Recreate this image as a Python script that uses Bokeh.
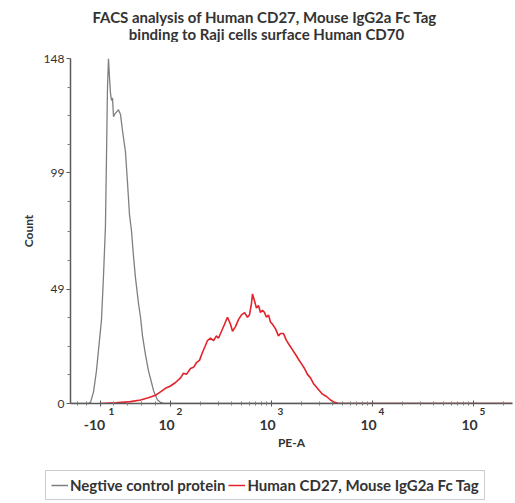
import math
from bokeh.plotting import figure
from bokeh.models import (FixedTicker, Legend, LegendItem, Range1d, Label,
                          LinearAxis)
from bokeh.embed import file_html
from bokeh.resources import INLINE

# PE-A channel positions are in display decades (10^2 -> 2, 10^3 -> 3 ...)
neg_x = [1.010, 1.188, 1.208, 1.238, 1.267, 1.317, 1.337, 1.356, 1.366, 1.376,
         1.386, 1.396, 1.406, 1.416, 1.426, 1.436, 1.446, 1.465, 1.485, 1.505,
         1.525, 1.554, 1.574, 1.594, 1.614, 1.634, 1.653, 1.683, 1.703, 1.723,
         1.752, 1.782, 1.812, 1.832, 1.851, 1.871, 1.901, 1.941, 5.386]
neg_count = [0, 0, 0.5, 5, 14, 36, 55, 76, 105, 135,
             148, 140, 133, 130, 131, 123, 124, 125, 126, 124,
             117, 108, 95, 81, 74, 63, 54, 43, 37, 29,
             21, 14, 9, 5.5, 3.5, 1.5, 0.5, 0, 0]

pos_x = [1.307, 1.455, 1.604, 1.703, 1.782, 1.851, 1.901, 1.950, 2.000, 2.050,
         2.099, 2.129, 2.158, 2.198, 2.228, 2.257, 2.287, 2.317, 2.347, 2.366,
         2.396, 2.426, 2.455, 2.475, 2.505, 2.535, 2.564, 2.594, 2.614, 2.644,
         2.673, 2.703, 2.733, 2.762, 2.782, 2.802, 2.812, 2.832, 2.851, 2.871,
         2.891, 2.911, 2.931, 2.950, 2.970, 2.990, 3.010, 3.040, 3.069, 3.089,
         3.119, 3.149, 3.178, 3.208, 3.238, 3.267, 3.297, 3.327, 3.356, 3.386,
         3.416, 3.446, 3.475, 3.505, 3.545, 3.584, 3.624, 3.663, 5.386]
pos_count = [0, 0.3, 0.8, 1.5, 2.5, 3.5, 5, 6.5, 7.5, 9,
             11, 13, 12.5, 15, 15.5, 17.5, 18.5, 22, 25, 27,
             28, 27, 29, 28, 31, 34, 37, 34, 31, 33,
             36, 38, 39, 37, 38, 43, 47, 44, 41, 42,
             39, 40, 39, 37, 38, 35, 34, 32, 29, 30,
             30, 27, 25, 23, 21, 19, 17, 15, 12.5, 11,
             8.5, 7, 5.5, 4, 3, 1.5, 0.5, 0, 0]

y_ticks = [0, 49, 99, 148]
x_tick_pos = [1.307, 2, 3, 4, 5]
x_tick_base = ["-10", "10", "10", "10", "10"]
x_tick_exp = ["1", "2", "3", "4", "5"]

title_lines = ["FACS analysis of  Human CD27, Mouse IgG2a Fc Tag",
               "binding to Raji cells surface Human CD70"]
series_names = ["Negtive control protein", "Human CD27, Mouse IgG2a Fc Tag"]
series_colors = ["#7f7f7f", "#e3222a"]

FONT = "Lato"
TXT = "#333333"
W = 515
x_lo, x_hi = 1.010, 5.386
FRAME_W = 442
px = (x_hi - x_lo) / FRAME_W          # data units per screen pixel
BASE_SHIFT = [-6, -4, -4, -4, -4]     # label nudges in pixels
EXP_SHIFT = [11, 9, 9, 9, 9]


def blank(height):
    f = figure(width=W, height=height, output_backend="svg",
               toolbar_location=None, x_range=Range1d(0, W),
               y_range=Range1d(height, 0), x_axis_type=None,
               y_axis_type=None, min_border=0, min_border_left=0,
               min_border_right=0, min_border_top=0, min_border_bottom=0)
    f.grid.visible = False
    f.outline_line_color = None
    return f


# ---- title strip
top = blank(42)
for i, t in enumerate(title_lines):
    top.add_layout(Label(x=266, y=16 + 17 * i, text=t, text_align="center",
                         text_baseline="middle", text_font=FONT,
                         text_font_style="bold", text_font_size="15px",
                         text_color=TXT))

# ---- main histogram
p = figure(width=W, height=428, output_backend="svg", toolbar_location=None,
           x_range=Range1d(x_lo, x_hi), y_range=Range1d(0, 148),
           min_border_left=70, min_border_right=3, min_border_top=16,
           min_border_bottom=67)
p.outline_line_color = None
p.grid.visible = False

p.line(neg_x, neg_count, line_color=series_colors[0], line_width=1.3)
p.line(pos_x, pos_count, line_color=series_colors[1], line_width=1.6)

ymin = []
for a, b in zip(y_ticks[:-1], y_ticks[1:]):
    ymin += [a + (b - a) * k / 4 for k in (1, 2, 3)]
p.yaxis.ticker = FixedTicker(ticks=y_ticks, minor_ticks=ymin)
p.yaxis.axis_line_color = "#5a5a5a"
p.yaxis.axis_line_width = 1.5
p.yaxis.major_tick_line_color = "#5a5a5a"
p.yaxis.minor_tick_line_color = "#7a7a7a"
p.yaxis.major_tick_out = 4
p.yaxis.major_tick_in = 0
p.yaxis.minor_tick_out = 3
p.yaxis.minor_tick_in = 0
p.yaxis.major_label_text_font = FONT
p.yaxis.major_label_text_font_size = "12px"
p.yaxis.major_label_text_color = TXT
p.yaxis.major_label_standoff = 2
p.yaxis.axis_label = "Count"
p.yaxis.axis_label_text_font = FONT
p.yaxis.axis_label_text_font_style = "bold"
p.yaxis.axis_label_text_font_size = "12px"
p.yaxis.axis_label_text_color = TXT
p.yaxis.axis_label_standoff = 5

# x axis: line and ticks only
xmin = [1.08, 1.17, 1.44, 1.57, 1.71, 1.85]
for n in (2, 3, 4, 5):
    for k in range(2, 10):
        v = n + math.log10(k)
        if v < x_hi:
            xmin.append(v)
p.xaxis.ticker = FixedTicker(ticks=x_tick_pos, minor_ticks=xmin)
p.xaxis.major_label_overrides = {t: "" for t in x_tick_pos}
p.xaxis.major_label_text_font_size = "1px"
p.xaxis.major_label_standoff = 0
p.xaxis.axis_line_color = "#5a5a5a"
p.xaxis.axis_line_width = 1.5
p.xaxis.major_tick_line_color = "#5a5a5a"
p.xaxis.minor_tick_line_color = "#7a7a7a"
p.xaxis.major_tick_out = 3
p.xaxis.major_tick_in = 3
p.xaxis.minor_tick_out = 2
p.xaxis.minor_tick_in = 2


def label_axis(shifts, texts, size, standoff):
    ticks = [t + s * px for t, s in zip(x_tick_pos, shifts)]
    ax = LinearAxis(ticker=FixedTicker(ticks=ticks, minor_ticks=[]),
                    major_label_overrides=dict(zip(ticks, texts)),
                    axis_line_color=None, major_tick_line_color=None,
                    minor_tick_line_color=None, major_tick_in=0,
                    major_tick_out=0, minor_tick_in=0, minor_tick_out=0,
                    major_label_standoff=standoff,
                    major_label_text_font=FONT,
                    major_label_text_font_style="bold",
                    major_label_text_font_size=size,
                    major_label_text_color=TXT)
    p.add_layout(ax, "below")
    return ax


label_axis(EXP_SHIFT, x_tick_exp, "10px", 1)
base_ax = label_axis(BASE_SHIFT, x_tick_base, "14px", 2)
base_ax.axis_label = "PE-A"
base_ax.axis_label_text_font = FONT
base_ax.axis_label_text_font_style = "bold"
base_ax.axis_label_text_font_size = "12px"
base_ax.axis_label_text_color = TXT
base_ax.axis_label_standoff = 2

# ---- legend strip
lf = blank(33)
items = []
for name, col in zip(series_names, series_colors):
    r = lf.line(x=[-20, -10], y=[-20, -10], line_color=col, line_width=1.5)
    items.append(LegendItem(label=name, renderers=[r]))
legend = Legend(items=items, orientation="horizontal", location=(45, 3),
                margin=0, border_line_color="#9a9a9a", border_line_width=1,
                background_fill_color="white", background_fill_alpha=1,
                label_text_font=FONT, label_text_font_style="bold",
                label_text_font_size="15px", label_text_color=TXT,
                glyph_width=17, glyph_height=14, label_standoff=2,
                spacing=3, padding=5)
lf.add_layout(legend)

# three separate roots stacked on the page (no frame alignment between them)
open("out.html", "w").write(file_html([top, p, lf], INLINE))
